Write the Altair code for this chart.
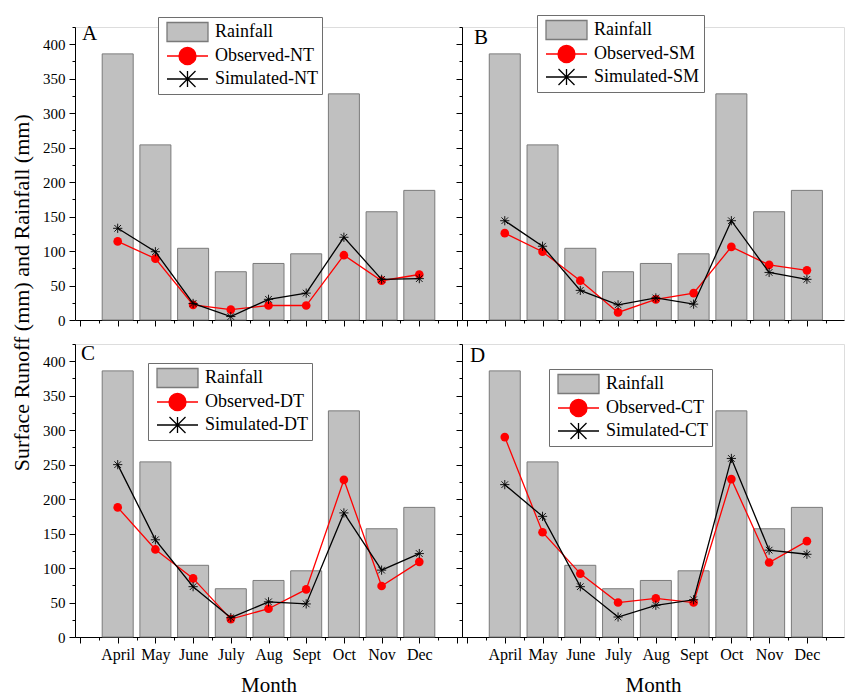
import altair as alt
import pandas as pd

# ---------------- data ----------------
months = ["April", "May", "June", "July", "Aug", "Sept", "Oct", "Nov", "Dec"]
rainfall = [386, 254, 104, 70, 82, 96, 328, 157, 188]

obs_nt = [114, 89, 22, 15, 21, 21, 94, 57, 66]
sim_nt = [133, 99, 24, 5, 30, 39, 120, 59, 60]
obs_sm = [126, 99, 57, 11, 30, 39, 106, 80, 72]
sim_sm = [144, 107, 43, 22, 32, 23, 144, 69, 59]
obs_dt = [188, 127, 85, 26, 41, 69, 228, 74, 109]
sim_dt = [250, 141, 73, 28, 51, 48, 180, 97, 121]
obs_ct = [290, 152, 92, 50, 56, 50, 229, 108, 139]
sim_ct = [221, 175, 73, 29, 46, 54, 259, 126, 120]

y_ticks = list(range(0, 426, 25))

# ---------------- style ----------------
FONT = "Liberation Serif"
BAR_FILL = "#c0c0c0"
BAR_STROKE = "#7a7a7a"
RED = "#ff0000"
BLACK = "#000000"

# legend swatches (unit = 10 px, drawn from x=-1 to x=3.1)
RECT_PATH = "M-1,-0.95L3.1,-0.95L3.1,0.95L-1,0.95Z"
CIRC_PATH = ("M-1,0L0.2,0M1.9,0L3.1,0"
             "M0.2,0A0.85,0.85 0 1,0 1.9,0A0.85,0.85 0 1,0 0.2,0Z")
AST_LEG_PATH = ("M-1,0L3.1,0M1.05,-0.8L1.05,0.8M0.25,-0.8L1.85,0.8"
                "M0.25,0.8L1.85,-0.8")
AST_PATH = "M-1,0L1,0M0,-1L0,1M-0.72,-0.72L0.72,0.72M-0.72,0.72L0.72,-0.72"

label_expr = ("datum.value >= 1 && datum.value <= %d && datum.value %% 1 === 0 ? "
              "%s[datum.value - 1] : ''") % (len(months), "[" + ",".join("'%s'" % m for m in months) + "]")

tick_x = {"condition": {"test": "datum.value % 1 === 0", "value": 6}, "value": 3}
tick_y = {"condition": {"test": "datum.value % 50 === 0", "value": 6}, "value": 3}


def panel(letter, tag, obs, sim, width, xmax, show_x, show_y, leg_xy, let_xy):
    df = pd.DataFrame({
        "m": list(range(1, len(months) + 1)),
        "Rainfall": rainfall,
        "Observed": obs,
        "Simulated": sim,
    })
    xvals = [i * 0.5 for i in range(int(xmax * 2) + 1)]
    x_axis_kw = dict(
        values=xvals, tickSize=tick_x, tickColor="black", domainColor="black",
        labels=show_x, grid=False, labelFont=FONT, labelFontSize=16,
        labelColor="black", labelPadding=3, labelFlush=False, labelOverlap=False,
    )
    if show_x:
        x_axis_kw.update(labelExpr=label_expr, title="Month", titleFont=FONT,
                         titleFontSize=21, titleFontWeight="normal",
                         titleColor="black", titlePadding=12)
    else:
        x_axis_kw.update(title=None)
    x = alt.X("m:Q", scale=alt.Scale(domain=[0, xmax], nice=False, zero=False),
              axis=alt.Axis(**x_axis_kw))
    y_scale = alt.Scale(domain=[0, 425], nice=False)
    y_axis = alt.Axis(values=y_ticks, tickSize=tick_y, tickColor="black",
                      domainColor="black", labels=show_y, grid=False, title=None,
                      labelExpr="datum.value % 50 === 0 ? datum.label : ''",
                      labelFont=FONT, labelFontSize=15, labelColor="black",
                      labelPadding=4)

    bars = alt.Chart(df).mark_bar(size=31, color=BAR_FILL, stroke=BAR_STROKE,
                                  strokeWidth=1).encode(
        x=x, y=alt.Y("Rainfall:Q", scale=y_scale, axis=y_axis))
    obs_line = alt.Chart(df).mark_line(color=RED, strokeWidth=1.3).encode(
        x=x, y=alt.Y("Observed:Q", scale=y_scale, axis=y_axis))
    obs_pts = alt.Chart(df).mark_point(filled=True, shape="circle", size=75,
                                       color=RED, opacity=1).encode(
        x=x, y=alt.Y("Observed:Q", scale=y_scale, axis=y_axis))
    sim_line = alt.Chart(df).mark_line(color=BLACK, strokeWidth=1.3).encode(
        x=x, y=alt.Y("Simulated:Q", scale=y_scale, axis=y_axis))
    sim_pts = alt.Chart(df).mark_point(filled=False, shape=AST_PATH, size=85,
                                       stroke=BLACK, strokeWidth=0.9,
                                       opacity=1).encode(
        x=x, y=alt.Y("Simulated:Q", scale=y_scale, axis=y_axis))

    series = ["Rainfall", "Observed-" + tag, "Simulated-" + tag]
    legend = alt.Legend(
        orient="none", legendX=leg_xy[0], legendY=leg_xy[1], title=None,
        labelFont=FONT, labelFontSize=18, labelColor="black", labelLimit=0,
        symbolSize=400, symbolStrokeWidth=1.3, symbolOpacity=1,
        padding=4, rowPadding=-2, labelOffset=27, symbolOffset=4,
        strokeColor="#6e6e6e", fillColor="white",
    )
    leg = alt.Chart(df).transform_calculate(series="'none'").transform_filter(
        "false").mark_point(filled=True, opacity=1, strokeWidth=1.3).encode(
        shape=alt.Shape("series:N", scale=alt.Scale(
            domain=series, range=[RECT_PATH, CIRC_PATH, AST_LEG_PATH]), legend=legend),
        fill=alt.Fill("series:N", scale=alt.Scale(
            domain=series, range=[BAR_FILL, RED, "transparent"]), legend=legend),
        stroke=alt.Stroke("series:N", scale=alt.Scale(
            domain=series, range=[BAR_STROKE, RED, BLACK]), legend=legend),
    )

    letter_txt = alt.Chart(pd.DataFrame({"t": [letter]})).mark_text(
        align="left", baseline="alphabetic", font=FONT, fontSize=21,
        color="black").encode(text="t:N", x=alt.value(let_xy[0]),
                              y=alt.value(let_xy[1]))

    return alt.layer(bars, obs_line, obs_pts, sim_line, sim_pts, leg,
                     letter_txt).properties(width=width, height=293)


A = panel("A", "NT", obs_nt, sim_nt, 387, 10, False, True, (83, -10), (7, 13))
B = panel("B", "SM", obs_sm, sim_sm, 382, 9.85, False, False, (75, -12), (12, 17))
C = panel("C", "DT", obs_dt, sim_dt, 387, 10, True, True, (73, 19), (6, 16))
D = panel("D", "CT", obs_ct, sim_ct, 382, 9.85, True, False, (87, 25), (8, 18))

chart = alt.concat(
    A, B, C, D, columns=2, spacing=alt.RowColnumber(row=24, column=0),
    bounds="flush",
    title=alt.TitleParams(
        text="Surface Runoff (mm) and Rainfall (mm)", orient="left",
        anchor="middle", font=FONT, fontSize=22, fontWeight="normal",
        color="black", offset=8, dx=62),
).resolve_scale(
    shape="independent", fill="independent", stroke="independent",
    x="independent", y="independent"
).resolve_legend(
    shape="independent", fill="independent", stroke="independent"
).configure_view(stroke=None).configure(
    background="white", font=FONT,
    padding={"left": 10, "top": 14, "right": 0, "bottom": 0}
).configure_legend(
    labelFont=FONT
).configure_title(
    font=FONT
)

chart.save("out.html", embed_options={"renderer": "svg", "actions": False})
